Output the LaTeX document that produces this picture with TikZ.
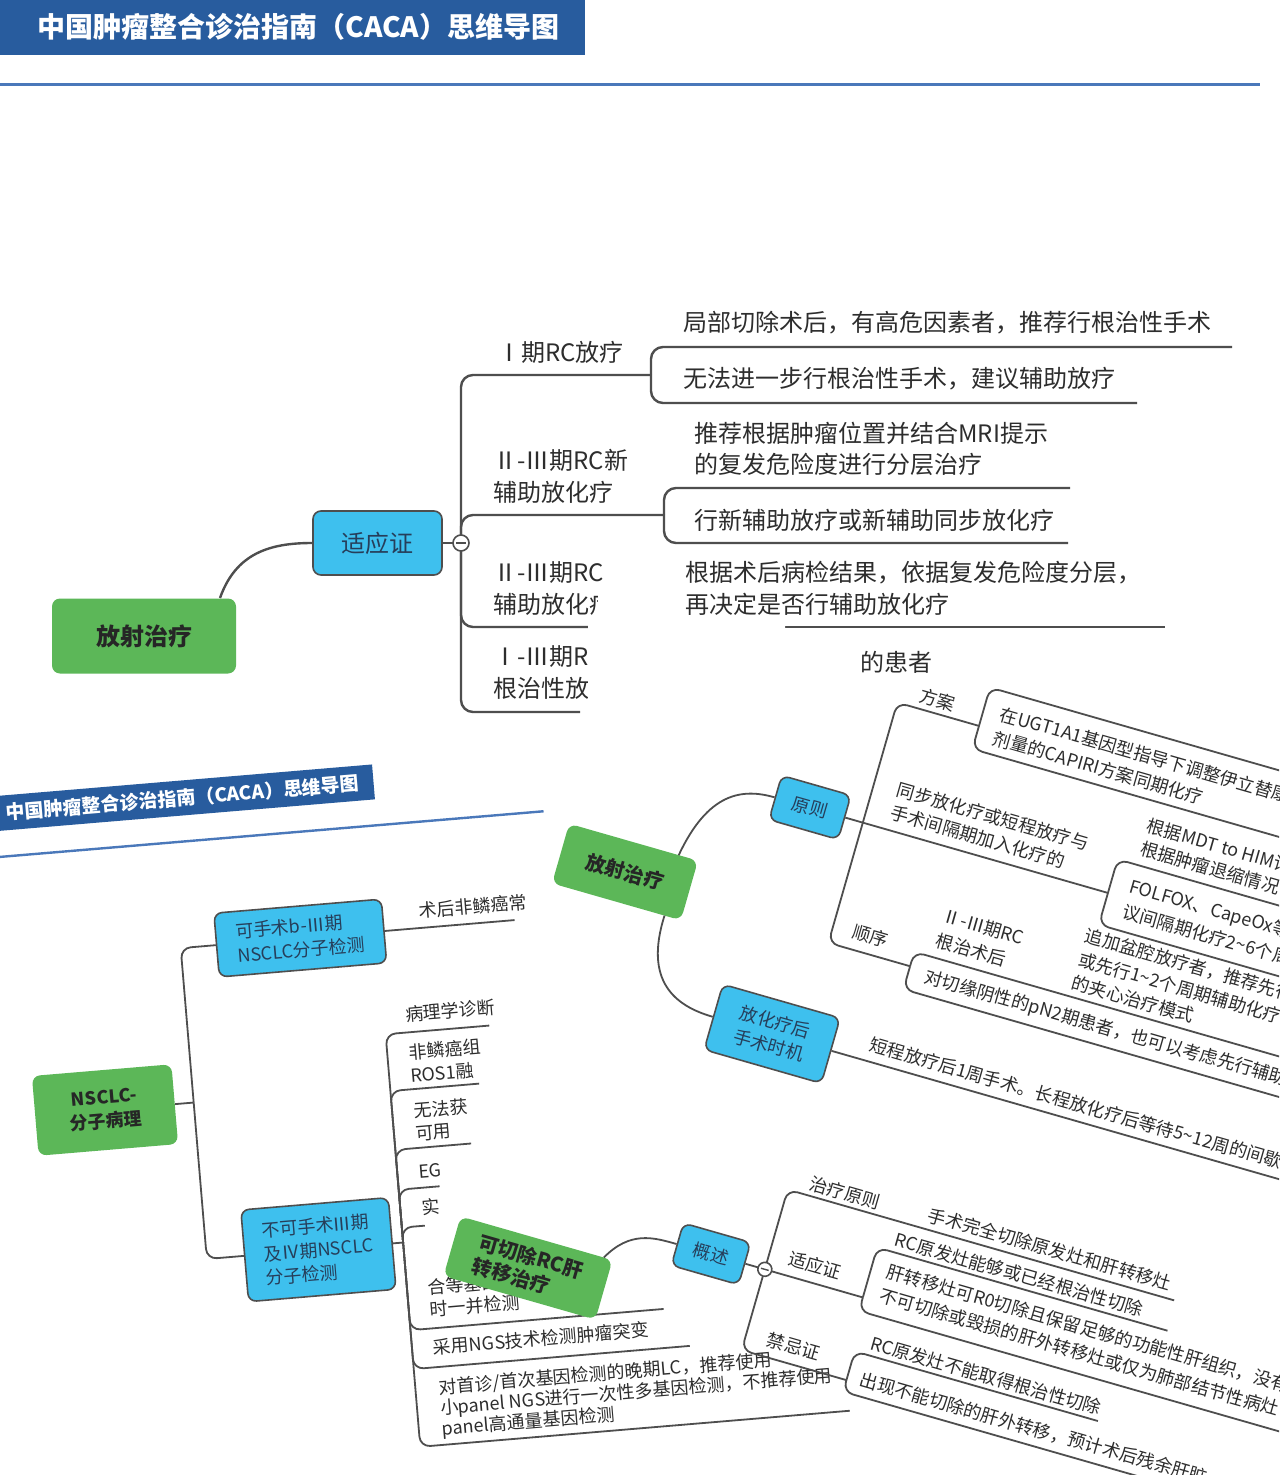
\documentclass[tikz,border=0pt]{standalone}
\usepackage{fontspec}
\setmainfont{Noto Sans CJK SC}
\definecolor{bannerblue}{RGB}{40,92,158}
\definecolor{rulec}{RGB}{74,120,186}
\definecolor{gnode}{RGB}{92,183,88}
\definecolor{bnode}{RGB}{62,192,238}
\definecolor{linec}{RGB}{78,78,78}
\definecolor{txtc}{RGB}{45,45,45}
\definecolor{ntxt}{RGB}{38,62,90}
\tikzset{
  gbox/.style={rectangle, rounded corners=4pt, fill=gnode, text=black!85, inner sep=2pt},
  bbox/.style={rectangle, rounded corners=4pt, fill=bnode, draw=linec, line width=0.8pt, text=ntxt, inner sep=2pt},
  ln/.style={draw=linec, line width=0.9pt, rounded corners=5pt},
  lnb/.style={draw=linec, line width=1.2pt, rounded corners=6pt},
  tx/.style={anchor=west, inner sep=0pt, text=txtc, font=\fontsize{12}{14}\selectfont},
  stx/.style={anchor=west, inner sep=0pt, text=txtc, font=\fontsize{9}{11}\selectfont},
  ctx/.style={inner sep=0pt, text=txtc, font=\fontsize{9}{11}\selectfont},
  knob/.style={circle, draw=linec, fill=white, line width=0.8pt, inner sep=0pt, minimum size=8pt},
  mask/.style={fill=white, draw=none}
}
\begin{document}
\begin{tikzpicture}[x=0.5pt,y=-0.5pt]
\useasboundingbox (0,0) rectangle (1279,1475);
\clip (0,0) rectangle (1279,1475);
\fill[white] (0,0) rectangle (1279,1475);

% ---------- title ----------
\fill[bannerblue] (0,0) rectangle (585,55);
\node[anchor=west, inner sep=0pt, text=white, font=\bfseries\fontsize{14}{16}\selectfont] (title) at (37,27) {中国肿瘤整合诊治指南（CACA）思维导图};
\draw[rulec, line width=1.5pt] (0,85) -- (1260,85);

% ---------- top panel ----------
\node[gbox, minimum width=92pt, minimum height=37.5pt, font=\bfseries\fontsize{12}{14}\selectfont] (rt) at (144,636) {放射治疗};
\node[bbox, minimum width=64.5pt, minimum height=32pt, font=\fontsize{12}{14}\selectfont] (sy) at (377.5,543) {适应证};
\draw[lnb] (220,598) .. controls (236,553) and (270,543) .. (sy.west);
\coordinate (k1) at (461,543);
\draw[lnb] (sy.east) -- (k1);
\draw[lnb] (k1) |- (651,375);
\draw[lnb] (k1) |- (664,515);
\draw[lnb] (k1) |- (590,627);
\draw[lnb] (k1) |- (580,712);
\node[knob] (c1) at (k1) {};
\draw[linec, line width=0.8pt] (456,543) -- (466,543);
\draw[lnb] (651,375) |- (1232,347);
\draw[lnb] (651,375) |- (1137,403);
\draw[lnb] (664,515) |- (1070,488);
\draw[lnb] (664,515) |- (1068,543);
\draw[lnb] (785,627) -- (1165,627);

\node[tx] (a1) at (497,352) {Ⅰ期RC放疗};
\node[tx] (a2) at (493,460) {Ⅱ-Ⅲ期RC新};
\node[tx] (a3) at (493,492) {辅助放化疗};
\node[tx] (a4) at (493,573) {Ⅱ-Ⅲ期RC};
\node[tx] (a5) at (493,604) {辅助放化疗};
\node[tx] (a6) at (493,657) {Ⅰ-Ⅲ期RC};
\node[tx] (a7) at (493,688) {根治性放疗};
\node[tx] (a8) at (683,323) {局部切除术后，有高危因素者，推荐行根治性手术};
\node[tx] (a9) at (683,379) {无法进一步行根治性手术，建议辅助放疗};
\node[tx] (a10) at (694,433) {推荐根据肿瘤位置并结合MRI提示};
\node[tx] (a11) at (694,464) {的复发危险度进行分层治疗};
\node[tx] (a12) at (694,520) {行新辅助放疗或新辅助同步放化疗};
\node[tx] (a13) at (685,573) {根据术后病检结果，依据复发危险度分层，};
\node[tx] (a14) at (685,604) {再决定是否行辅助放化疗};

% overlay cut of the top panel
\fill[mask] (598,587) -- (681,587) -- (681,619) -- (785,619) -- (785,635) -- (1279,635)
  -- (1279,760) -- (588,760) -- (588,619) -- (598,619) -- cycle;
\node[tx] (a15) at (860,662) {的患者};

% ---------- NSCLC panel ----------
\begin{scope}[shift={(105,1110)}, rotate=4.8, transform shape]
  \fill[bannerblue] (-200,-322) rectangle (295,-287);
  \node[anchor=east, inner sep=0pt, text=white, font=\bfseries\fontsize{9.5}{11}\selectfont] (t2) at (281,-304.5) {中国肿瘤整合诊治指南（CACA）思维导图};
  \draw[rulec, line width=1.2pt] (-130,-261) -- (462,-261);
  \node[gbox, minimum width=70pt, minimum height=40pt, align=center, font=\bfseries\fontsize{9}{12}\selectfont] (ns) at (0,0) {NSCLC-\\分子病理};
  \node[bbox, minimum width=84pt, minimum height=32pt, align=left, font=\fontsize{9}{12}\selectfont] (kss) at (209,-155) {可手术b-Ⅲ期\\NSCLC分子检测};
  \node[bbox, minimum width=74pt, minimum height=46pt, align=left, font=\fontsize{9}{12}\selectfont] (bks) at (201,157) {不可手术Ⅲ期\\及Ⅳ期NSCLC\\分子检测};
  \coordinate (tr) at (89,0);
  \draw[ln] (ns.east) -- (tr);
  \draw[ln] (tr) |- (kss.west);
  \draw[ln] (tr) |- (bks.west);
  \draw[ln] (kss.east) -- (424,-155);
  \node[stx] (n0) at (329,-172) {术后非鳞癌常};
  \coordinate (br) at (286,157);
  \draw[ln] (bks.east) -- (br);
  \draw[ln] (br) |- (390,-52);
  \draw[ln] (br) |- (375,5);
  \draw[ln] (br) |- (362,64);
  \draw[ln] (br) |- (327,104);
  \draw[ln] (br) |- (309,142);
  \draw[ln] (br) |- (540,245);
  \draw[ln] (br) |- (563,284);
  \draw[ln] (br) |- (717,362);
  \node[stx] (n1) at (307,-70) {病理学诊断};
  \node[stx] (n2) at (307,-32) {非鳞癌组};
  \node[stx] (n3) at (307,-9) {ROS1融};
  \node[stx] (n4) at (307,27) {无法获};
  \node[stx] (n5) at (307,50) {可用};
  \node[stx] (n6) at (307,88) {EG};
  \node[stx] (n7) at (307,124) {实};
  \node[stx] (n8) at (307,204) {合等基因};
  \node[stx] (n9) at (307,226) {时一并检测};
  \node[stx] (n10) at (307,264) {采用NGS技术检测肿瘤突变};
  \node[stx] (n11) at (309,305) {对首诊/首次基因检测的晚期LC，推荐使用};
  \node[stx] (n12) at (309,326) {小panel NGS进行一次性多基因检测，不推荐使用};
  \node[stx] (n13) at (309,347) {panel高通量基因检测};
\end{scope}

% ---------- middle right panel ----------
\begin{scope}[shift={(625,872)}, rotate=-16, transform shape]
  \node[gbox, minimum width=67pt, minimum height=31pt, font=\bfseries\fontsize{10}{12}\selectfont] (rt2) at (0,0) {放射治疗};
  \node[bbox, minimum width=36pt, minimum height=23pt, font=\fontsize{9}{11}\selectfont] (yz) at (160,-113) {原则};
  \node[bbox, minimum width=61pt, minimum height=34pt, align=left, font=\fontsize{9}{12}\selectfont] (hl) at (186,115) {放化疗后\\手术时机};
  \draw[ln] (47,-31) .. controls (58,-100) and (90,-113) .. (yz.west);
  \draw[ln] (50,31) .. controls (48,100) and (85,115) .. (hl.west);
  \coordinate (m0) at (215,-113);
  \draw[ln] (yz.east) -- (470,-113);
  \draw[ln] (m0) |- (300,-238);
  \draw[ln] (m0) |- (300,12);
  \draw[ln] (300,-238) |- (800,-278);
  \draw[ln] (300,-238) |- (800,-214);
  \draw[ln] (470,-113) |- (800,-148);
  \draw[ln] (470,-113) |- (800,-80);
  \draw[ln] (300,12) |- (800,-3);
  \draw[ln] (300,12) |- (800,36);
  \draw[ln] (hl.east) -- (800,115);
  \node[ctx] (m1) at (253,-252) {方案};
  \node[stx] (m2) at (317,-256) {在UGT1A1基因型指导下调整伊立替康};
  \node[stx] (m3) at (317,-231) {剂量的CAPIRI方案同期化疗};
  \node[stx] (m4) at (239,-155) {同步放化疗或短程放疗与};
  \node[stx] (m5) at (239,-131) {手术间隔期加入化疗的};
  \node[stx] (m6) at (489,-189) {根据MDT to HIM讨};
  \node[stx] (m7) at (489,-165) {根据肿瘤退缩情况};
  \node[stx] (m8) at (489,-125) {FOLFOX、CapeOx等};
  \node[stx] (m9) at (489,-100) {议间隔期化疗2\textasciitilde 6个周};
  \node[ctx] (m10) at (254,-6) {顺序};
  \node[stx] (m11) at (318,-46) {Ⅱ-Ⅲ期RC};
  \node[stx] (m12) at (318,-21) {根治术后};
  \node[stx] (m13) at (460,-66) {追加盆腔放疗者，推荐先行};
  \node[stx] (m14) at (460,-42) {或先行1\textasciitilde 2个周期辅助化疗};
  \node[stx] (m15) at (460,-18) {的夹心治疗模式};
  \node[stx] (m16) at (317,18) {对切缘阴性的pN2期患者，也可以考虑先行辅助};
  \node[stx] (m17) at (283,98) {短程放疗后1周手术。长程放化疗后等待5\textasciitilde 12周的间歇};
\end{scope}

% ---------- bottom panel ----------
\begin{scope}[shift={(528,1268)}, rotate=-16, transform shape]
  \node[gbox, minimum width=79pt, minimum height=31pt, align=left, font=\bfseries\fontsize{10}{12}\selectfont] (kq) at (0,0) {可切除RC肝\\转移治疗};
  \node[bbox, minimum width=35pt, minimum height=22pt, font=\fontsize{9}{11}\selectfont] (gs) at (172,-64) {概述};
  \draw[ln] (70,-31) .. controls (88,-64) and (112,-64) .. (gs.west);
  \coordinate (k2) at (228,-64);
  \draw[ln] (gs.east) -- (k2);
  \draw[ln] (k2) |- (630,-147);
  \draw[ln] (k2) |- (337,20);
  \draw[ln] (k2) -- (330,-64);
  \node[knob, minimum size=7pt] (c2) at (k2) {};
  \draw[linec, line width=0.7pt] (224,-64) -- (232,-64);
  \draw[ln] (330,-64) |- (632,-116);
  \draw[ln] (330,-64) |- (800,-50);
  \draw[ln] (337,20) |- (590,-10);
  \draw[ln] (337,20) |- (800,32);
  \node[ctx] (b1) at (284,-160) {治疗原则};
  \node[stx] (b2) at (370,-162) {手术完全切除原发灶和肝转移灶};
  \node[ctx] (b3) at (275,-82) {适应证};
  \node[stx] (b4) at (345,-129) {RC原发灶能够或已经根治性切除};
  \node[stx] (b5) at (346,-96) {肝转移灶可R0切除且保留足够的功能性肝组织，没有};
  \node[stx] (b6) at (346,-71) {不可切除或毁损的肝外转移灶或仅为肺部结节性病灶};
  \node[ctx] (b7) at (277,2) {禁忌证};
  \node[stx] (b8) at (350,-23) {RC原发灶不能取得根治性切除};
  \node[stx] (b9) at (350,15) {出现不能切除的肝外转移，预计术后残余肝脏};
\end{scope}
\end{tikzpicture}
\end{document}
